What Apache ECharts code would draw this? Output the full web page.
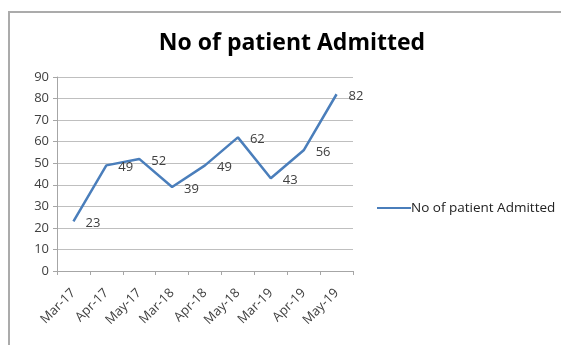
<!DOCTYPE html>
<html>
<head>
<meta charset="utf-8">
<script src="https://cdn.jsdelivr.net/npm/echarts@6/dist/echarts.min.js"></script>
<style>
  html, body { margin: 0; padding: 0; background: #fff; }
  #chart { width: 561px; height: 345px; }
</style>
</head>
<body>
<div id="chart"></div>
<script>
// 数据
var months = ['Mar-17', 'Apr-17', 'May-17', 'Mar-18', 'Apr-18', 'May-18', 'Mar-19', 'Apr-19', 'May-19'];
var admitted = [23, 49, 52, 39, 49, 62, 43, 56, 82];
var seriesName = 'No of patient Admitted';

var myChart = echarts.init(document.getElementById('chart'));
var font = '"Open Sans", "Noto Sans", sans-serif';

var option = {
  animation: false,
  textStyle: { fontFamily: font },
  graphic: [{
    type: 'rect',
    shape: { x: 9, y: 12, width: 600, height: 400 },
    style: { fill: 'none', stroke: '#ababab', lineWidth: 2 },
    silent: true
  }],
  title: {
    text: seriesName,
    left: 287,
    textAlign: 'center',
    top: 27,
    textStyle: { fontSize: 23, fontWeight: 'bold', color: '#000', fontFamily: font }
  },
  legend: {
    left: 372,
    top: 196,
    itemWidth: 34,
    itemHeight: 14,
    itemGap: 0,
    textStyle: { fontSize: 13.5, color: '#222', padding: [0, 0, 0, -5] },
    data: [{ name: seriesName, icon: 'path://M0,6L33,6L33,8L0,8Z' }]
  },
  grid: { left: 57, right: 208, top: 77, bottom: 74 },
  xAxis: {
    type: 'category',
    data: months,
    boundaryGap: true,
    axisLine: { lineStyle: { color: '#a6a6a6', width: 1 } },
    axisTick: { show: true, length: 4, alignWithLabel: false, lineStyle: { color: '#a6a6a6' } },
    axisLabel: { rotate: 45, color: '#404040', fontSize: 13, margin: 20, interval: 0 }
  },
  yAxis: {
    type: 'value',
    min: 0,
    max: 90,
    interval: 10,
    axisLine: { show: true, lineStyle: { color: '#a6a6a6', width: 1 } },
    axisTick: { show: true, length: 4, lineStyle: { color: '#a6a6a6' } },
    axisLabel: { color: '#404040', fontSize: 13, margin: 8 },
    splitLine: { lineStyle: { color: '#bfbfbf', width: 1 } }
  },
  series: [{
    name: seriesName,
    type: 'line',
    data: admitted,
    symbol: 'circle',
    symbolSize: 0,
    showSymbol: true,
    lineStyle: { color: '#4a7ebb', width: 2.5 },
    itemStyle: { color: '#4a7ebb' },
    label: {
      show: true,
      position: 'right',
      distance: 12,
      offset: [0, 2],
      color: '#404040',
      fontSize: 13
    }
  }]
};

myChart.setOption(option);
</script>
</body>
</html>
